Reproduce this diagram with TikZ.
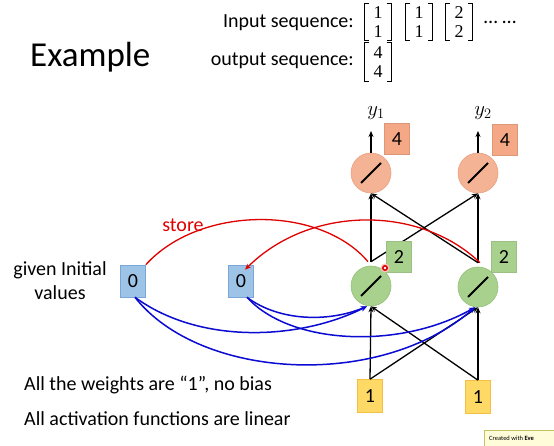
\documentclass[tikz,border=0pt]{standalone}
\usepackage{fontspec}
\setmainfont{Carlito}
\newfontfamily\numfont{Liberation Serif}
\usetikzlibrary{arrows.meta,calc}
\definecolor{orfill}{HTML}{F5B396}
\definecolor{ordraw}{HTML}{E9A07F}
\definecolor{orbox}{HTML}{F4A886}
\definecolor{grfill}{HTML}{A9D18E}
\definecolor{grdraw}{HTML}{93C078}
\definecolor{blfill}{HTML}{9DC3E6}
\definecolor{bldraw}{HTML}{7BA6D9}
\definecolor{yefill}{HTML}{FFD966}
\definecolor{yedraw}{HTML}{F2C045}
\definecolor{storered}{HTML}{E00000}
\definecolor{memblue}{HTML}{0A0AD2}
\begin{document}
\begin{tikzpicture}[x=1pt,y=-1pt,
  txt/.style={inner sep=0pt,font=\fontsize{20}{24}\selectfont},
  mtx/.style={inner sep=0pt,minimum width=27pt,minimum height=36pt,align=center,
    font=\numfont\fontsize{18}{19}\selectfont},
  brk/.style={line width=1pt},
  neuron/.style={circle,minimum size=40pt,inner sep=0pt,line width=0.6pt,
    path picture={\draw[black,line width=1.9pt]
      ([shift={(-10pt,-10pt)}]path picture bounding box.center) --
      ([shift={(10pt,10pt)}]path picture bounding box.center);}},
  outn/.style={neuron,fill=orfill,draw=ordraw},
  hidn/.style={neuron,fill=grfill,draw=grdraw},
  valbox/.style={rectangle,minimum width=25pt,minimum height=31pt,inner sep=0pt,
    line width=0.6pt,font=\fontsize{20}{24}\selectfont},
  obox/.style={valbox,fill=orbox,draw=orbox!90!black},
  gbox/.style={valbox,fill=grfill,draw=grfill!92!black},
  mbox/.style={valbox,minimum height=32pt,fill=blfill,draw=bldraw},
  ibox/.style={valbox,minimum height=33pt,fill=yefill,draw=yedraw},
  conn/.style={-{Stealth[length=6pt,width=5pt]},line width=1.3pt},
  memline/.style={-{Stealth[length=6pt,width=5pt]},draw=memblue,line width=1.5pt},
  storeline/.style={draw=storered,line width=1.3pt}]
\useasboundingbox (0,0) rectangle (554,446);
\fill[white] (0,0) rectangle (554,446);

% texts
\node[inner sep=0pt,font=\fontsize{35}{40}\selectfont,anchor=base west] (title) at (30,67) {Example};
\node[txt,anchor=base east] (inseq) at (354,28) {Input sequence:};
\node[txt,anchor=base east] (outseq) at (354,66) {output sequence:};
\node[mtx] (x1) at (378,22) {1\\1};
\node[mtx] (x2) at (419,22) {1\\1};
\node[mtx] (x3) at (459,22) {2\\2};
\node[mtx,minimum height=38pt] (yv) at (378,62) {4\\4};
\foreach \m in {x1,x2,x3,yv}{
  \draw[brk] ([xshift=5pt]\m.north west) -- (\m.north west) -- (\m.south west) -- ([xshift=5pt]\m.south west);
  \draw[brk] ([xshift=-5pt]\m.north east) -- (\m.north east) -- (\m.south east) -- ([xshift=-5pt]\m.south east);
}
\node[txt] (dots) at (500,22) {… …};
\node[txt,align=center] (given) at (60,281) {given Initial\\values};
\node[txt,anchor=base west] (w1) at (24,390) {All the weights are “1”, no bias};
\node[txt,anchor=base west] (w2) at (24,425) {All activation functions are linear};
\node[txt,text=storered] (store) at (183,225) {store};

% neurons
\node[outn] (o1) at (371,173) {};
\node[outn] (o2) at (478,173) {};
\node[hidn] (h1) at (371,286) {};
\node[hidn] (h2) at (478,287) {};
\node[mbox] (m1) at (133,281) {0};
\node[mbox] (m2) at (241,281) {0};
\node[ibox] (i1) at (370,396) {1};
\node[ibox] (i2) at (478,397) {1};

\coordinate (h1t) at ([yshift=4pt]h1.north);
\coordinate (h2t) at ([yshift=4pt]h2.north);
\coordinate (y1a) at (371,131);
\coordinate (y2a) at (478,131);
\node[txt] (y1) at (376,113) {$y_1$};
\node[txt] (y2) at (483,113) {$y_2$};

% black connectors
\draw[conn] (o1.north) -- (y1a);
\draw[conn] (o2.north) -- (y2a);
\draw[conn] (h1t) -- (o1.south);
\draw[conn] (h1t) -- (o2.south);
\draw[conn] (h2t) -- (o2.south);
\draw[conn] (h2t) -- (o1.south);
\draw[conn] (i1.north) -- (h1.south);
\draw[conn] (i1.north) -- (h2.south);
\draw[conn] (i2.north) -- (h2.south);
\draw[conn] (i2.north) -- (h1.south);

% blue memory connectors
\draw[memline] ([xshift=2pt]m1.south) .. controls (200,345) and (300,340) .. ([xshift=-4pt]h1.south);
\draw[memline] ([xshift=2pt]m1.south) .. controls (200,380) and (380,390) .. ([xshift=-3pt]h2.south);
\draw[memline] ([xshift=6pt]m2.south) .. controls (280,322) and (330,322) .. ([xshift=-4pt]h1.south);
\draw[memline] ([xshift=6pt]m2.south) .. controls (290,345) and (400,350) .. ([xshift=-3pt]h2.south);

% value boxes
\node[obox] (b1) at (397,139) {4};
\node[obox] (b2) at (505,140) {4};
\node[gbox] (g1) at (399,257) {2};
\node[gbox] (g2) at (504,257) {2};

% red store connectors
\draw[storeline] (m1.north east) .. controls (200,205) and (320,205) .. ([xshift=-3pt]h1t);
\draw[storeline,-{Stealth[length=6pt,width=5pt]}] ([xshift=2pt]h2t) .. controls (420,205) and (310,205) .. ($(m2.north)+(4,5)$);

% cursor mark
\fill[red!25] (385,268) circle (4.5pt);
\fill[red!85!black] (385,268) circle (3pt);
\fill[white] (385,268) circle (1.3pt);

% watermark
\fill[yellow!15,draw=yellow!50!gray] (484,430) rectangle (560,452);
\node[inner sep=0pt,anchor=base west,font=\fontsize{6.5}{7}\selectfont] (wm) at (489,440) {Created with \textbf{Eve}};
\end{tikzpicture}
\end{document}
